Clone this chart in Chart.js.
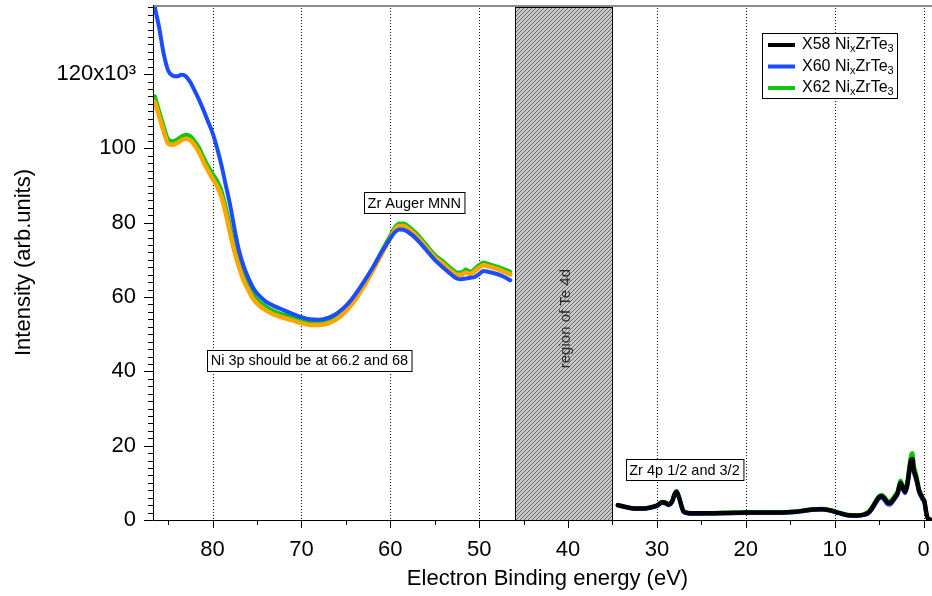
<!DOCTYPE html>
<html>
<head>
<meta charset="utf-8">
<script src="https://cdn.jsdelivr.net/npm/chart.js@4/dist/chart.umd.min.js"></script>
<style>
  html, body { margin: 0; padding: 0; background: #ffffff; }
  #wrap { width: 932px; height: 596px; }
</style>
</head>
<body>
<div id="wrap"><canvas id="c" width="932" height="596"></canvas></div>
<script>
// ---- Valence-band / shallow core spectra, intensity in units of 10^3 counts ----

// Low-energy-loss window (binding energy, eV)
const energyLow = [86.5, 86.0, 85.5, 85.0, 84.5, 84.0, 83.5, 83.0, 82.5, 82.0, 81.5, 81.0, 80.5, 80.0, 79.5, 79.0, 78.5, 78.0, 77.5, 77.0, 76.5, 76.0, 75.5, 75.0,
  74.0, 73.0, 72.0, 71.0, 70.0, 69.0, 68.0, 67.0, 66.0, 65.0, 64.0, 63.0, 62.0, 61.0, 60.0,
  59.5, 59.0, 58.5, 58.0, 57.0, 56.0, 55.0, 54.0, 53.0, 52.5, 52.0, 51.5, 51.0, 50.5, 50.0, 49.5, 49.0, 48.0, 47.0, 46.5];

const x60Low = [138.0, 132.4, 125.5, 121.0, 119.6, 119.4, 119.8, 119.4, 117.8, 115.5, 113.0, 110.2, 107.2, 104.2, 100.2, 95.5, 90.0, 84.5, 78.0, 72.3, 68.3, 65.3, 62.8, 61.0,
  58.8, 57.5, 56.5, 55.5, 54.6, 54.0, 53.9, 54.4, 55.6, 57.6, 60.5, 64.0, 67.8, 72.0, 75.8,
  77.4, 78.2, 78.1, 77.5, 75.5, 72.8, 70.0, 67.8, 65.8, 65.0, 64.8, 65.0, 65.2, 65.4, 66.2, 67.0, 66.8, 66.2, 65.2, 64.5];

const x62Low = [114.0, 110.0, 106.0, 102.5, 101.9, 102.4, 103.2, 103.7, 103.3, 101.9, 100.1, 97.5, 95.2, 93.2, 91.3, 88.6, 84.0, 78.5, 73.5, 69.3, 65.8, 63.3, 61.0, 59.4,
  57.4, 56.1, 55.3, 54.6, 53.9, 53.4, 53.3, 53.6, 54.8, 56.8, 59.7, 63.4, 67.6, 72.2, 76.6,
  78.7, 79.8, 79.8, 79.1, 77.0, 74.2, 71.4, 69.5, 67.4, 66.6, 66.6, 67.4, 66.8, 67.6, 68.6, 69.3, 68.9, 68.2, 67.3, 66.8];

const refLow = [112.6, 108.6, 104.7, 101.3, 101.0, 101.4, 102.2, 102.6, 102.2, 100.8, 98.9, 96.3, 94.0, 91.9, 89.9, 87.0, 82.4, 77.0, 72.0, 67.9, 64.5, 62.0, 59.8, 58.3,
  56.4, 55.2, 54.4, 53.7, 53.0, 52.5, 52.5, 52.9, 54.1, 56.2, 59.1, 62.8, 67.0, 71.5, 75.8,
  78.0, 79.1, 79.1, 78.4, 76.3, 73.5, 70.7, 68.8, 66.7, 66.0, 66.0, 66.6, 66.2, 67.0, 67.9, 68.6, 68.3, 67.6, 66.6, 66.1];

// Shallow core + valence window (binding energy, eV)
const energyHigh = [34.4, 33.5, 32.5, 31.5, 30.7, 30.0, 29.4, 29.0, 28.7, 28.3, 28.0, 27.8, 27.5, 27.2, 27.0, 26.5, 25.5, 24.0, 22.0, 20.0,
  18.0, 16.0, 14.5, 13.5, 12.5, 11.5, 10.5, 9.5, 8.5, 7.5, 6.8, 6.2, 5.8, 5.4, 5.0, 4.7, 4.4, 4.1, 3.8, 3.5,
  3.2, 2.9, 2.6, 2.3, 2.1, 1.8, 1.6, 1.4, 1.25, 1.1, 0.9, 0.7, 0.5, 0.3, 0.1, -0.1, -0.3, -0.5, -0.8];

const x58High = [4.0, 3.5, 3.1, 3.1, 3.4, 3.9, 4.8, 4.6, 4.2, 5.0, 7.0, 7.6, 6.0, 3.5, 2.3, 1.9, 1.8, 1.8, 1.9, 2.0,
  2.0, 2.0, 2.2, 2.5, 2.8, 2.9, 2.6, 1.9, 1.3, 1.2, 1.4, 2.0, 3.2, 4.8, 6.2, 6.4, 5.8, 4.8, 4.6, 5.2,
  6.2, 7.4, 10.0, 8.5, 7.6, 10.0, 13.5, 16.2, 16.4, 13.5, 12.0, 10.0, 7.8, 6.8, 5.8, 5.0, 2.0, 0.3, 0.1];

const x60High = [3.9, 3.4, 3.0, 3.0, 3.3, 3.7, 4.6, 4.4, 4.0, 4.8, 6.8, 7.4, 5.8, 3.3, 2.1, 1.7, 1.6, 1.7, 1.8, 1.9,
  1.9, 1.9, 2.1, 2.4, 2.7, 2.8, 2.5, 1.8, 1.2, 1.1, 1.3, 1.8, 2.9, 4.4, 5.8, 6.0, 5.3, 4.3, 4.1, 4.8,
  5.8, 7.0, 9.4, 8.1, 7.2, 9.4, 12.6, 15.2, 15.4, 12.8, 11.4, 9.5, 7.4, 6.4, 5.5, 4.6, 1.9, 0.3, 0.1];

const x62High = [4.0, 3.5, 3.1, 3.1, 3.4, 3.9, 4.9, 4.7, 4.3, 5.1, 7.2, 7.8, 6.1, 3.5, 2.3, 1.9, 1.8, 1.9, 2.0, 2.1,
  2.1, 2.1, 2.3, 2.6, 2.9, 3.0, 2.7, 2.0, 1.4, 1.3, 1.5, 2.2, 3.5, 5.1, 6.5, 6.8, 6.2, 5.3, 5.1, 5.7,
  6.7, 7.9, 10.6, 9.0, 8.2, 10.8, 14.5, 17.6, 18.0, 14.8, 13.0, 10.8, 8.4, 7.2, 6.1, 5.1, 2.1, 0.3, 0.1];

// Axis ticks
const xMajorTicks = [80, 70, 60, 50, 40, 30, 20, 10, 0];
const yMajorTicks = [0, 20, 40, 60, 80, 100, 120];

// Excluded Te 4d window (eV)
const te4dWindow = [46, 35];

// Text callouts: [label, energy (eV), intensity (10^3)]
const callouts = [
  ['Zr Auger MNN', 57.3, 85.4],
  ['Ni 3p should be at 66.2 and 68', 69.1, 43.0],
  ['Zr 4p 1/2 and 3/2', 26.9, 13.5]
];

// Legend entries
const legendEntries = [
  { name: 'X58', color: '#000000' },
  { name: 'X60', color: '#1a4dff' },
  { name: 'X62', color: '#0cc80c' }
];

const FONT = '"Liberation Sans", Arial, sans-serif';

function pairs(es, vs) { return es.map((e, i) => ({ x: e, y: vs[i] })); }
function joined(a, b) { return a.concat([{ x: 40, y: null }], b); }

function hatchPattern(ctx) {
  const t = document.createElement('canvas');
  t.width = 4; t.height = 4;
  const g = t.getContext('2d');
  g.fillStyle = '#c9c9c9';
  g.fillRect(0, 0, 4, 4);
  g.strokeStyle = '#6a6a6a';
  g.lineWidth = 1;
  g.beginPath();
  g.moveTo(0, 4); g.lineTo(4, 0);
  g.moveTo(-1, 1); g.lineTo(1, -1);
  g.moveTo(3, 5); g.lineTo(5, 3);
  g.stroke();
  return ctx.createPattern(t, 'repeat');
}

// Draws "Xnn NixZrTe3" with subscripts
function drawFormula(ctx, name, x, y) {
  const big = '16px ' + FONT, small = '11px ' + FONT;
  const parts = [[name + ' Ni', big, 0], ['x', small, 4], ['ZrTe', big, 0], ['3', small, 4]];
  ctx.textBaseline = 'middle';
  ctx.textAlign = 'left';
  parts.forEach(([t, f, dy]) => {
    ctx.font = f;
    ctx.fillText(t, x, y + dy);
    x += ctx.measureText(t).width;
  });
}

const decor = {
  id: 'decor',
  beforeDatasetsDraw(chart) {
    const { ctx, chartArea: a, scales: { x, y } } = chart;
    ctx.save();
    // dotted vertical grid at major energies
    ctx.strokeStyle = '#111';
    ctx.lineWidth = 1;
    ctx.setLineDash([1, 2]);
    xMajorTicks.forEach(v => {
      const px = Math.round(x.getPixelForValue(v)) + 0.5;
      ctx.beginPath(); ctx.moveTo(px, a.top); ctx.lineTo(px, a.bottom); ctx.stroke();
    });
    ctx.setLineDash([]);

    // hatched Te 4d window
    const p0 = Math.round(x.getPixelForValue(te4dWindow[0]));
    const p1 = Math.round(x.getPixelForValue(te4dWindow[1]));
    const top = a.top + 2;
    ctx.fillStyle = hatchPattern(ctx);
    ctx.fillRect(p0, top, p1 - p0, a.bottom - top);
    ctx.strokeStyle = '#000';
    ctx.strokeRect(p0 + 0.5, top + 0.5, p1 - p0, a.bottom - top);

    // rotated label inside the window
    ctx.save();
    ctx.translate((p0 + p1) / 2 + 2, y.getPixelForValue(54.2));
    ctx.rotate(-Math.PI / 2);
    ctx.fillStyle = '#2a2a2a';
    ctx.font = '15px ' + FONT;
    ctx.textAlign = 'center';
    ctx.textBaseline = 'middle';
    ctx.fillText('region of Te 4d', 0, 0);
    ctx.restore();
    ctx.restore();
  },
  afterDraw(chart) {
    const { ctx, chartArea: a, scales: { x, y } } = chart;
    ctx.save();
    // frame: top border and axes
    ctx.strokeStyle = '#8a8a8a';
    ctx.lineWidth = 2;
    ctx.beginPath(); ctx.moveTo(a.left, a.top + 1); ctx.lineTo(a.right, a.top + 1); ctx.stroke();
    ctx.strokeStyle = '#000';
    ctx.lineWidth = 1;
    ctx.beginPath();
    ctx.moveTo(a.left + 0.5, a.top); ctx.lineTo(a.left + 0.5, a.bottom + 0.5);
    ctx.lineTo(a.right, a.bottom + 0.5);
    ctx.stroke();

    // x tick marks (major every 10 eV, minor every 5 eV)
    ctx.beginPath();
    for (let v = 85; v >= 0; v -= 5) {
      const px = Math.round(x.getPixelForValue(v)) + 0.5;
      const len = v % 10 === 0 ? 8 : 5;
      ctx.moveTo(px, a.bottom); ctx.lineTo(px, a.bottom + len);
    }
    // y tick marks (major every 20, minor every 2)
    for (let v = 0; v <= 138; v += 2) {
      const py = Math.round(y.getPixelForValue(v)) + 0.5;
      const len = v % 20 === 0 ? 9 : 5;
      ctx.moveTo(a.left, py); ctx.lineTo(a.left - len, py);
    }
    ctx.stroke();

    // callout boxes
    ctx.font = '14.5px ' + FONT;
    ctx.textAlign = 'center';
    ctx.textBaseline = 'middle';
    callouts.forEach(([t, e, v]) => {
      const cx = x.getPixelForValue(e), cy = y.getPixelForValue(v);
      const w = ctx.measureText(t).width + 7, h = 21;
      const bx = Math.round(cx - w / 2) + 0.5, by = Math.round(cy - h / 2) + 0.5;
      ctx.fillStyle = '#fff';
      ctx.fillRect(bx, by, w, h);
      ctx.strokeStyle = '#000';
      ctx.strokeRect(bx, by, w, h);
      ctx.fillStyle = '#000';
      ctx.fillText(t, cx, cy + 1);
    });

    // legend
    const lx = 762.5, ly = 33.5, lw = 135, lh = 65;
    ctx.fillStyle = '#fff';
    ctx.fillRect(lx, ly, lw, lh);
    ctx.strokeStyle = '#000';
    ctx.lineWidth = 1;
    ctx.strokeRect(lx, ly, lw, lh);
    legendEntries.forEach((le, i) => {
      const cy = 45 + i * 21.5;
      ctx.strokeStyle = le.color;
      ctx.lineWidth = 4;
      ctx.beginPath(); ctx.moveTo(768, cy); ctx.lineTo(795, cy); ctx.stroke();
      ctx.fillStyle = '#000';
      drawFormula(ctx, le.name, 802, cy);
    });

    // axis titles
    ctx.fillStyle = '#000';
    ctx.font = '22px ' + FONT;
    ctx.textAlign = 'center';
    ctx.textBaseline = 'alphabetic';
    ctx.fillText('Electron Binding energy (eV)', (a.left + a.right) / 2 + 5, 585);
    ctx.save();
    ctx.translate(24, (a.top + a.bottom) / 2);
    ctx.rotate(-Math.PI / 2);
    ctx.textBaseline = 'middle';
    ctx.fillText('Intensity (arb.units)', 0, 0);
    ctx.restore();
    ctx.restore();
  }
};

const line = (data, color, width, order) => ({
  data, borderColor: color, borderWidth: width, order,
  pointRadius: 0, fill: false, spanGaps: false,
  cubicInterpolationMode: 'monotone', borderJoinStyle: 'round', borderCapStyle: 'round'
});

new Chart(document.getElementById('c'), {
  type: 'line',
  data: {
    datasets: [
      line(joined(pairs(energyLow, x62Low), pairs(energyHigh, x62High)), '#0cc80c', 4, 3),
      line(pairs(energyLow, refLow), '#ffa500', 4.5, 2),
      line(joined(pairs(energyLow, x60Low), pairs(energyHigh, x60High)), '#1a4dff', 4, 1),
      line(pairs(energyHigh, x58High), '#000000', 4.5, 0)
    ]
  },
  options: {
    responsive: false,
    animation: false,
    devicePixelRatio: 1,
    layout: { padding: { top: 5, right: 0, bottom: 0, left: 0 } },
    plugins: { legend: { display: false }, tooltip: { enabled: false } },
    scales: {
      x: {
        type: 'linear', reverse: true, min: -0.95, max: 86.7,
        grid: { display: false }, border: { display: false },
        ticks: { stepSize: 10, includeBounds: false, padding: 9, color: '#000', maxRotation: 0,
                 font: { family: FONT, size: 22 } },
        afterBuildTicks: s => { s.ticks = xMajorTicks.map(v => ({ value: v })); },
        afterFit: s => { s.height = 76; s.paddingLeft = 0; s.paddingRight = 0; }
      },
      y: {
        type: 'linear', min: 0, max: 138.6,
        grid: { display: false }, border: { display: false },
        ticks: { padding: 9, color: '#000', font: { family: FONT, size: 22 },
                 callback: v => (v === 120 ? '120x10³' : String(v)) },
        afterBuildTicks: s => { s.ticks = yMajorTicks.map(v => ({ value: v })); },
        afterFit: s => { s.width = 153; s.paddingTop = 0; s.paddingBottom = 0; }
      }
    }
  },
  plugins: [decor]
});
</script>
</body>
</html>
